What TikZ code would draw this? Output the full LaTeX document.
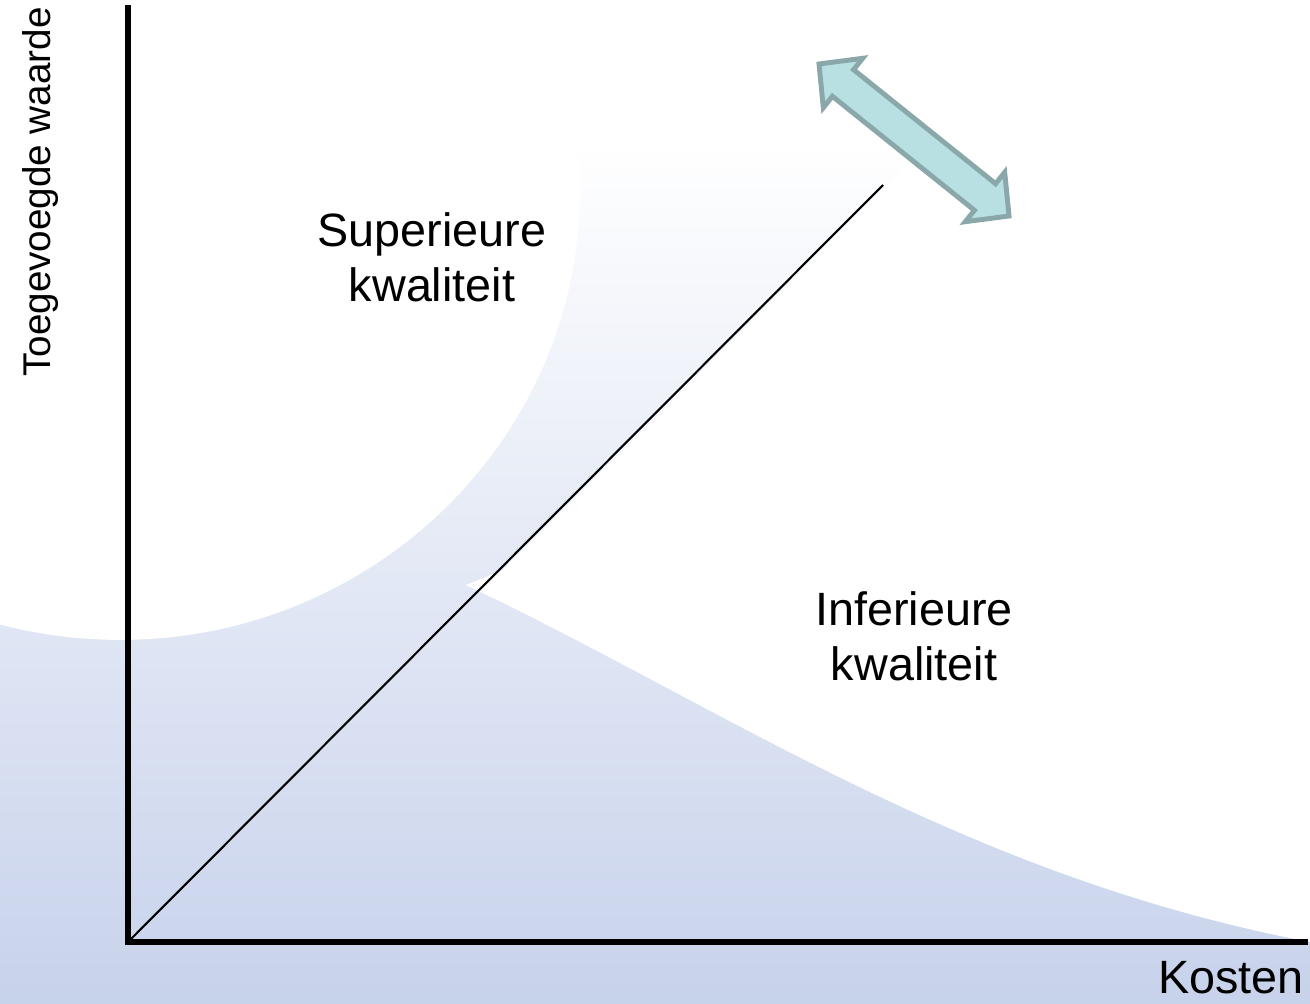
\documentclass[tikz,border=0pt]{standalone}
\usepackage{fontspec}
\setmainfont{Liberation Sans}
\definecolor{bgbot}{RGB}{199,210,235}
\definecolor{arrfill}{RGB}{184,223,226}
\definecolor{arrline}{RGB}{138,168,170}
\pgfdeclareverticalshading{bgshade}{100bp}{color(0bp)=(bgbot); color(25bp)=(bgbot); color(68bp)=(white); color(100bp)=(white)}
\begin{document}
\begin{tikzpicture}[x=0.02cm,y=-0.02cm,
  axisline/.style={line width=2.9pt, line join=miter},
  diagline/.style={line width=1.2pt},
  biglabel/.style={inner sep=0pt, align=center, font=\fontsize{26.6}{31.2}\selectfont},
  ylabel/.style={inner sep=0pt, font=\fontsize{22}{26}\selectfont},
  dblarrow/.style={fill=arrfill, draw=arrline, line width=2.8pt, line join=miter}]
\useasboundingbox (0,0) rectangle (1310,1003);
% background
\shade[shading=bgshade] (0,0) rectangle (1310,1003);
\fill[white] (120,190) ellipse [x radius=9.2cm, y radius=9cm];
\fill[white] (1310,0) -- (1072,0) -- (501,571) -- (466,585)
  .. controls (720,705) and (960,875) .. (1310,942)
  -- cycle;
% axes
\coordinate (O) at (128,942);
\coordinate (ytop) at (128,5);
\coordinate (xend) at (1308,942);
\coordinate (dend) at (883,185);
\draw[axisline] (ytop) -- (O) -- (xend);
\draw[diagline] (O) -- (dend);
% double arrow
\draw[dblarrow] (819,64) -- (862.7,58.3) -- (853.6,69.7) -- (995.6,183.7) -- (1004.7,172.3)
  -- (1009,216) -- (965.3,221.7) -- (974.4,210.3) -- (832.4,96.3) -- (823.3,107.7) -- cycle;
% labels
\node[biglabel] (sup) at (432,257) {Superieure\\kwaliteit};
\node[biglabel] (inf) at (914,636) {Inferieure\\kwaliteit};
\node[biglabel, anchor=base east] (kost) at (1304,993) {Kosten};
\node[ylabel, rotate=90, anchor=base] (tw) at (50,192) {Toegevoegde waarde};
\end{tikzpicture}
\end{document}
